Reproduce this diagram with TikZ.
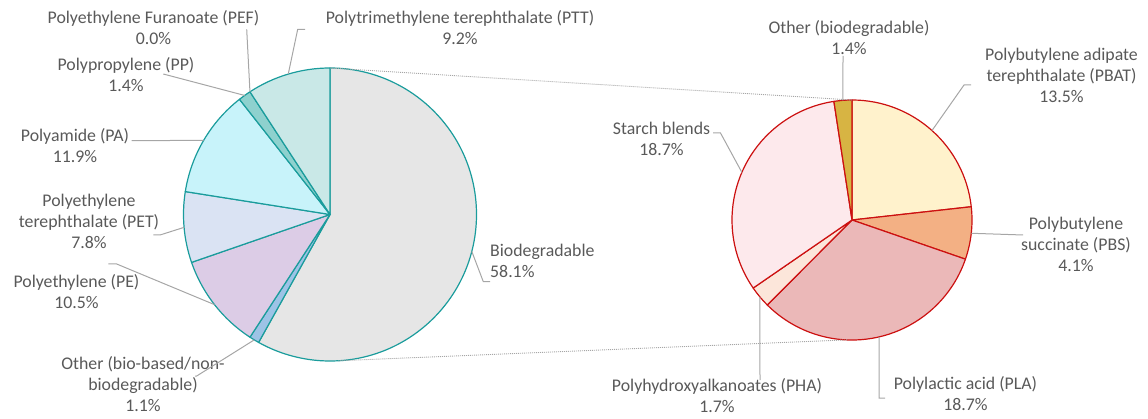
\documentclass[tikz,border=0pt]{standalone}
\usepackage{fontspec}
\setmainfont{Carlito}
\usetikzlibrary{calc}
\definecolor{txt}{HTML}{595959}
\definecolor{leadc}{HTML}{A6A6A6}
\definecolor{tealo}{HTML}{1A9C9C}
\definecolor{redo}{HTML}{CC1010}
\definecolor{cBio}{HTML}{E6E6E6}
\definecolor{cOthA}{HTML}{9DC3E6}
\definecolor{cPE}{HTML}{DCCCE6}
\definecolor{cPET}{HTML}{DAE3F3}
\definecolor{cPA}{HTML}{C8F3FA}
\definecolor{cPP}{HTML}{8ED1CE}
\definecolor{cPTT}{HTML}{C9E8E7}
\definecolor{cPBAT}{HTML}{FFF2CC}
\definecolor{cPBS}{HTML}{F3B084}
\definecolor{cPLA}{HTML}{EBB8B8}
\definecolor{cPHA}{HTML}{FCE6DA}
\definecolor{cSTA}{HTML}{FDE9EC}
\definecolor{cOthB}{HTML}{D7B443}
\begin{document}
\begin{tikzpicture}[x=1pt,y=1pt,
  lbl/.style={align=center, inner sep=0pt, text=txt, font=\fontsize{17.8}{21}\selectfont},
  lead/.style={draw=leadc, line width=1pt},
  dots/.style={draw=leadc, line width=0.9pt, dash pattern=on 1pt off 1pt},
  lslice/.style={draw=tealo, line width=1.2pt, line join=round},
  rslice/.style={draw=redo, line width=1.2pt, line join=round}]
\useasboundingbox (0,0) rectangle (1148,418);
\coordinate (L) at (330,203.5);
\coordinate (R) at (852,198);
% left pie
\newcommand{\lsl}[3]{\filldraw[lslice, fill=#1] (L) -- ($(L)+(#2:146.5pt)$) arc[start angle=#2, end angle=#3, radius=146.5pt] -- cycle;}
\lsl{cBio}{90}{-119.16}
\lsl{cOthA}{-119.16}{-123.12}
\lsl{cPE}{-123.12}{-160.92}
\lsl{cPET}{-160.92}{-189.0}
\lsl{cPA}{-189.0}{-231.84}
\lsl{cPP}{-231.84}{-236.88}
\lsl{cPTT}{-236.88}{-270}
% right pie
\newcommand{\rsl}[3]{\filldraw[rslice, fill=#1] (R) -- ($(R)+(#2:120pt)$) arc[start angle=#2, end angle=#3, radius=120pt] -- cycle;}
\rsl{cPBAT}{90}{6.351}
\rsl{cPBS}{6.351}{-19.053}
\rsl{cPLA}{-19.053}{-134.922}
\rsl{cPHA}{-134.922}{-145.456}
\rsl{cSTA}{-145.456}{-261.325}
\rsl{cOthB}{-261.325}{-270}
% series lines
\coordinate (lTop) at ($(L)+(90:146.5pt)$);
\coordinate (rTop) at ($(R)+(90:120pt)$);
\coordinate (lBot) at ($(L)+(-86.75:146.5pt)$);
\coordinate (rBot) at ($(R)+(-92.5:120pt)$);
\draw[dots] (lTop) -- (rTop);
\draw[dots] (lBot) -- (rBot);
% labels
\node[lbl] (tPEF) at (153.5,390.8) {Polyethylene Furanoate (PEF)\\0.0\%};
\node[lbl] (tPP) at (126,343.3) {Polypropylene (PP)\\1.4\%};
\node[lbl] (tPTT) at (460,390.5) {Polytrimethylene terephthalate (PTT)\\9.2\%};
\node[lbl] (tPA) at (75,272.2) {Polyamide (PA)\\11.9\%};
\node[lbl] (tPET) at (89,196.3) {Polyethylene\\terephthalate (PET)\\7.8\%};
\node[lbl] (tPE) at (76.5,126.3) {Polyethylene (PE)\\10.5\%};
\node[lbl] (tOthA) at (143,33.5) {Other (bio-based/non-\\biodegradable)\\1.1\%};
\node[lbl, align=left, anchor=west] (tBio) at (490,157.5) {Biodegradable\\58.1\%};
\node[lbl] (tOthB) at (849,380.5) {Other (biodegradable)\\1.4\%};
\node[lbl] (tPBAT) at (1061.5,342.4) {Polybutylene adipate\\terephthalate (PBAT)\\13.5\%};
\node[lbl] (tSTA) at (661.5,279) {Starch blends\\18.7\%};
\node[lbl] (tPBS) at (1076,174) {Polybutylene\\succinate (PBS)\\4.1\%};
\node[lbl] (tPHA) at (717,22.5) {Polyhydroxyalkanoates (PHA)\\1.7\%};
\node[lbl] (tPLA) at (965.5,24) {Polylactic acid (PLA)\\18.7\%};
% leader points on the pies
\coordinate (pPEF) at ($(L)+(123.12:146.5pt)$);
\coordinate (pPP) at ($(L)+(125.64:146.5pt)$);
\coordinate (pPTT) at ($(L)+(106.56:146.5pt)$);
\coordinate (pPA) at ($(L)+(149.58:146.5pt)$);
\coordinate (pPET) at ($(L)+(185.04:146.5pt)$);
\coordinate (pPE) at ($(L)+(217.98:146.5pt)$);
\coordinate (pOthA) at ($(L)+(238.86:146.5pt)$);
\coordinate (pBio) at ($(L)+(-14.58:146.5pt)$);
\coordinate (pOthB) at ($(R)+(94.34:120pt)$);
\coordinate (pPBAT) at ($(R)+(48.2:120pt)$);
\coordinate (pPBS) at ($(R)+(-6.35:120pt)$);
\coordinate (pPLA) at ($(R)+(-76.99:120pt)$);
\coordinate (pPHA) at ($(R)+(-140.18:120pt)$);
\coordinate (pSTA) at ($(R)+(156.61:120pt)$);
% leader free ends
\coordinate (aPEF) at (246.7,388.7);
\coordinate (aPP) at (163.3,344);
\coordinate (aPTT) at (305,388.7);
\coordinate (bPTT) at (297.7,388.7);
\coordinate (aPA) at (131.7,277.3);
\coordinate (aPET) at (153.3,183);
\coordinate (bPET) at (160,183);
\coordinate (aPE) at (108.3,154);
\coordinate (bPE) at (116.7,154);
\coordinate (aOthA) at (195,42);
\coordinate (bOthA) at (196.7,42);
\coordinate (aBio) at (490,136.3);
\coordinate (bBio) at (483.3,136.3);
\coordinate (aOthB) at (843,362);
\coordinate (aPBAT) at (971,333);
\coordinate (bPBAT) at (964,333);
\coordinate (aPBS) at (1023,183);
\coordinate (aPLA) at (885,20);
\coordinate (bPLA) at (879,20);
\coordinate (aPHA) at (760,38);
\coordinate (aSTA) at (713,285);
\coordinate (bSTA) at (720.5,285);
\draw[lead] (aPEF) -- (pPEF);
\draw[lead] (aPP) -- (pPP);
\draw[lead] (aPTT) -- (bPTT) -- (pPTT);
\draw[lead] (aPA) -- (pPA);
\draw[lead] (aPET) -- (bPET) -- (pPET);
\draw[lead] (aPE) -- (bPE) -- (pPE);
\draw[lead] (aOthA) -- (bOthA) -- (pOthA);
\draw[lead] (pBio) -- (bBio) -- (aBio);
\draw[lead] (aOthB) -- (pOthB);
\draw[lead] (aPBAT) -- (bPBAT) -- (pPBAT);
\draw[lead] (pPBS) -- (aPBS);
\draw[lead] (pPLA) -- (bPLA) -- (aPLA);
\draw[lead] (pPHA) -- (aPHA);
\draw[lead] (aSTA) -- (bSTA) -- (pSTA);
\end{tikzpicture}
\end{document}
